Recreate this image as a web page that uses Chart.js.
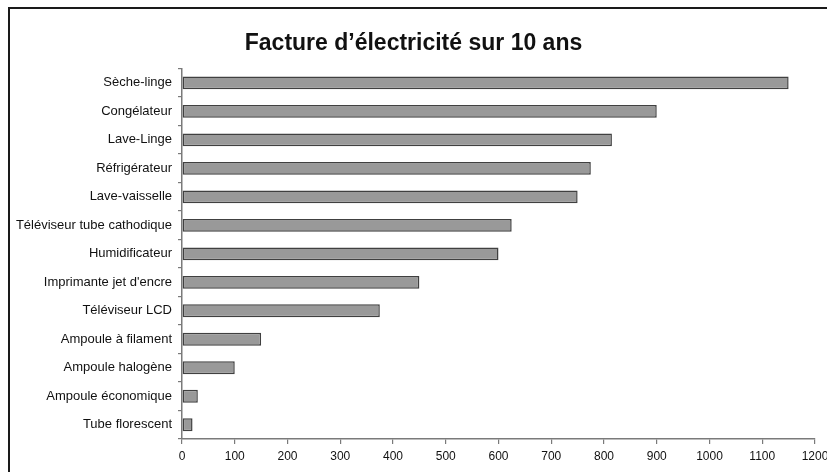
<!DOCTYPE html>
<html lang="fr">
<head>
<meta charset="utf-8">
<title>Facture d'électricité sur 10 ans</title>
<script src="https://cdn.jsdelivr.net/npm/chart.js@4.4.0/dist/chart.umd.min.js"></script>
<style>
  html, body { margin: 0; padding: 0; background: #fff; overflow: hidden; }
  #wrap { position: relative; width: 827px; height: 472px; }
  #cadre { position: absolute; left: 8px; top: 7px; width: 900px; height: 600px; border: 2px solid #1a1a1a; }
  canvas { position: absolute; left: 0; top: 0; }
</style>
</head>
<body>
<div id="wrap">
  <div id="cadre"></div>
  <canvas id="factureChart" width="827" height="472"></canvas>
</div>
<script>
// Appareils (de haut en bas)
const appareils = [
    'Sèche-linge',
    'Congélateur',
    'Lave-Linge',
    'Réfrigérateur',
    'Lave-vaisselle',
    'Téléviseur tube cathodique',
    'Humidificateur',
    "Imprimante jet d'encre",
    'Téléviseur LCD',
    'Ampoule à filament',
    'Ampoule halogène',
    'Ampoule économique',
    'Tube florescent'
];

// Coût sur 10 ans
const couts = [1150, 900, 815, 775, 750, 625, 600, 450, 375, 150, 100, 30, 20];

// Graduations de l'axe horizontal
const graduationMax = 1200;
const graduationPas = 100;

const ctx = document.getElementById('factureChart').getContext('2d');

Chart.defaults.font.family = '"Liberation Sans", Arial, Helvetica, sans-serif';
Chart.defaults.color = '#111';

const factureChart = new Chart(ctx, {
    type: 'bar',
    data: {
        labels: appareils,
        datasets: [{
            label: 'Facture',
            data: couts,
            backgroundColor: '#999999',
            borderColor: '#404040',
            borderWidth: 1.5,
            borderSkipped: false,
            categoryPercentage: 0.9,
            barPercentage: 0.5
        }]
    },
    options: {
        indexAxis: 'y',
        responsive: false,
        animation: false,
        layout: { padding: { left: 12, right: 12, top: 0, bottom: 0 } },
        plugins: {
            legend: { display: false },
            tooltip: { enabled: false },
            title: {
                display: true,
                text: 'Facture d’électricité sur 10 ans',
                color: '#111',
                font: { size: 23, weight: 'bold' },
                padding: { top: 30, bottom: 11 }
            }
        },
        scales: {
            x: {
                min: 0,
                max: graduationMax,
                ticks: {
                    stepSize: graduationPas,
                    font: { size: 12 },
                    padding: 5,
                    maxRotation: 0,
                    callback: (v) => String(v)
                },
                grid: {
                    drawOnChartArea: false,
                    color: '#7a7a7a',
                    tickLength: 5,
                    lineWidth: 1.2
                },
                border: { color: '#7a7a7a', width: 1.5 },
                afterFit: (scale) => {
                    scale.height = 33;
                    scale.paddingLeft = 0;
                    scale.paddingRight = 0;
                }
            },
            y: {
                ticks: {
                    font: { size: 13 },
                    padding: 6,
                    autoSkip: false
                },
                grid: {
                    drawOnChartArea: false,
                    color: '#7a7a7a',
                    tickLength: 4,
                    lineWidth: 1.2
                },
                border: { color: '#7a7a7a', width: 1.5 },
                afterFit: (scale) => { scale.width = 170; }
            }
        }
    }
});
</script>
</body>
</html>
